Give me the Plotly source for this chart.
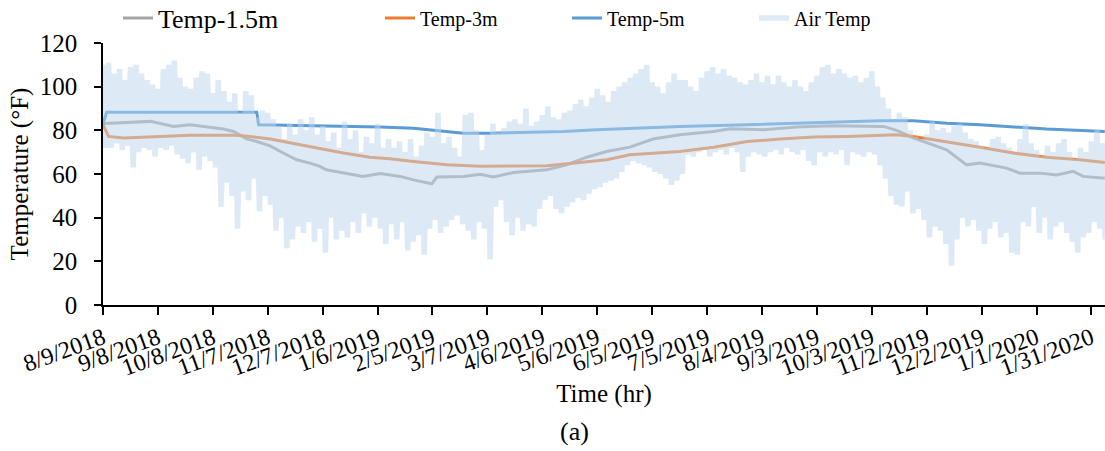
import pandas as pd
import plotly.graph_objects as go

START = pd.Timestamp("2018-08-09")

# x-axis tick labels (30-day spacing)
tick_labels = ["8/9/2018", "9/8/2018", "10/8/2018", "11/7/2018", "12/7/2018",
               "1/6/2019", "2/5/2019", "3/7/2019", "4/6/2019", "5/6/2019",
               "6/5/2019", "7/5/2019", "8/4/2019", "9/3/2019", "10/3/2019",
               "11/2/2019", "12/2/2019", "1/1/2020", "1/31/2020"]

# Soil temperature at 1.5 m (days since 8/9/2018, °F)
t15_day = [0, 4, 26, 38.5, 47.6, 56.7, 65.8, 71.3, 78.5, 84, 91.3, 98.5, 105.8, 113,
           118.5, 122, 131, 142, 151.5, 162.4, 169.6, 179.6, 182.4, 196.9, 206, 213.3,
           224.2, 242.4, 253.3, 264.2, 275.1, 287.8, 300.5, 315.1, 333.6, 342.7, 360.9,
           379, 397.3, 415.5, 426.4, 433.6, 442.7, 460.9, 471.8, 479.1, 493.6, 500.9,
           511.8, 520.9, 530, 535.5, 547.3]
t15_val = [83, 83.3, 84.1, 81.8, 82.6, 81.5, 80.6, 79.5, 76.1, 74.9, 72.9, 69.6, 66.5, 65,
           63.5, 61.9, 60.4, 58.9, 60.2, 58.9, 57.3, 55.5, 58.6, 58.9, 59.9, 58.6,
           60.7, 61.9, 64.2, 67.7, 70.3, 72.3, 76, 78, 79.5, 80.7, 80.3,
           81.5, 82.1, 82.1, 81.8, 80, 76.5, 71.1, 64.2, 65, 62.7, 60.4,
           60.4, 59.6, 61.2, 58.9, 58.1]

# Soil temperature at 3 m
t3_day = [0, 3, 11.3, 29.5, 47.6, 73, 80.4, 91.3, 102.2, 116.7, 131.3, 145.8, 156.7,
          169.6, 187.8, 206, 224.2, 242.4, 260.5, 275.1, 287.8, 306, 315.1, 333.6,
          351.8, 370, 388.2, 406.4, 424.5, 433.6, 442.7, 460.9, 479.1, 497.3, 515.5,
          533.6, 547.3]
t3_val = [82.6, 77.2, 76.5, 77.2, 77.7, 77.7, 77.2, 76, 74.2, 71.9, 69.6, 67.7, 67,
          65.7, 64.2, 63.5, 63.5, 63.8, 65.3, 66.5, 68.8, 69.6, 70.3, 72.3,
          74.9, 76, 76.9, 77.2, 77.7, 78, 77.2, 74.9, 72.3, 69.6, 67.7,
          66.5, 65.3]

# Soil temperature at 5 m
t5_day = [0, 2, 84, 85, 151.5, 169.6, 180.5, 196.9, 211.5, 233.3, 251.5, 269.6, 287.8,
          315.1, 351.8, 388.2, 424.5, 442.7, 460.9, 479.1, 497.3, 515.5, 547.3]
t5_val = [83, 88.3, 88.3, 82.6, 81.5, 81, 80, 78.7, 78.7, 79, 79.5, 80.3, 81,
          81.8, 82.6, 83.6, 84.4, 84.4, 83.3, 82.6, 81.5, 80.6, 79.5]

# Air temperature: highs and lows sampled every 3 days (lows half a step later)
air_step = 3
air_hi = [110, 111, 106, 108, 103, 109, 110, 106, 103, 101, 99, 108, 110, 112, 104, 100,
          99, 104, 107, 106, 97, 103, 98, 93, 97, 88, 98, 96, 86, 89, 88, 85, 82, 76,
          83, 78, 85, 80, 86, 78, 82, 75, 79, 72, 84, 76, 80, 70, 77, 74, 83, 72, 76,
          72, 75, 70, 76, 68, 73, 79, 77, 88, 74, 77, 72, 68, 87, 88, 80, 71, 78, 83,
          79, 81, 84, 85, 83, 90, 82, 84, 87, 91, 86, 85, 88, 89, 92, 94, 91, 95, 99,
          96, 93, 98, 100, 102, 104, 106, 108, 110, 102, 100, 97, 102, 106, 103,
          103, 100, 98, 104, 107, 109, 106, 108, 105, 104, 102, 101, 103, 106, 102,
          105, 101, 105, 102, 100, 103, 100, 98, 102, 105, 109, 110, 106, 108, 106,
          104, 105, 102, 104, 107, 100, 95, 90, 85, 88, 86, 80, 77, 76, 78, 84, 80,
          81, 79, 82, 83, 79, 76, 75, 73, 72, 76, 77, 74, 72, 70, 76, 83, 74, 71, 68,
          73, 70, 74, 76, 70, 67, 72, 70, 75, 80, 74]
air_lo = [72, 72, 74, 71, 73, 63, 70, 72, 71, 68, 72, 71, 73, 69, 67, 65, 70, 62, 68,
          66, 63, 45, 56, 50, 35, 52, 48, 58, 43, 50, 46, 34, 40, 26, 30, 36, 33, 38,
          29, 35, 24, 40, 30, 34, 31, 38, 33, 42, 36, 40, 35, 28, 37,
          30, 38, 25, 29, 32, 23, 35, 39, 33, 36, 39, 41, 37, 34, 30, 38, 35, 21, 45,
          48, 38, 32, 40, 34, 37, 36, 44, 48, 50, 44, 42, 45, 47, 49, 48, 51, 53, 54,
          56, 57, 58, 61, 64, 66, 65, 64, 63, 61, 60, 58, 55, 57, 60,
          69, 68, 70, 71, 68, 70, 71, 69, 72, 70, 61, 68, 70, 69, 68, 70, 71, 69, 72,
          70, 69, 71, 66, 64, 70, 68, 70, 69, 71, 64, 70, 69, 68, 70, 69, 64, 58, 50,
          46, 45, 52, 42, 44, 39, 31, 36, 34, 28, 18, 30, 40, 36, 39, 34, 28, 35, 38,
          31, 33, 24, 23, 38, 36, 45, 33, 40, 30, 36, 38, 33, 29, 24, 31, 33, 38, 35,
          30]


def to_dates(days):
    return START + pd.to_timedelta(days, unit="D")


# Interleave highs and lows into one hourly-like trace
air_x, air_y = [], []
for i, (hi, lo) in enumerate(zip(air_hi, air_lo)):
    air_x += [i * air_step, i * air_step + air_step / 2]
    air_y += [hi, lo]

FONT = "Liberation Serif"
GRAY, ORANGE, BLUE, AIR = "#A5A5A5", "#ED7D31", "#5B9BD5", "#BDD7EE"

fig = go.Figure()
fig.add_trace(go.Scatter(x=to_dates(t15_day), y=t15_val, mode="lines", name="Temp-1.5m",
                         line=dict(color=GRAY, width=3), legend="legend"))
fig.add_trace(go.Scatter(x=to_dates(t3_day), y=t3_val, mode="lines", name="Temp-3m",
                         line=dict(color=ORANGE, width=3), legend="legend2"))
fig.add_trace(go.Scatter(x=to_dates(t5_day), y=t5_val, mode="lines", name="Temp-5m",
                         line=dict(color=BLUE, width=3), legend="legend3"))
fig.add_trace(go.Scatter(x=to_dates(air_x), y=air_y, mode="lines", name="Air Temp",
                         line=dict(color=AIR, width=5.5), opacity=0.5, legend="legend4"))

L, T, B, W, H = 103, 43, 146, 1105, 451
pw, ph = W - L, H - T - B


def px_x(p):
    return (p - L) / pw


def px_y(p):
    return (H - B - p) / ph


def legend_at(x_px, size):
    return dict(orientation="h", x=px_x(x_px), y=px_y(18), xanchor="left",
                yanchor="middle", font=dict(family=FONT, size=size, color="black"),
                bgcolor="rgba(0,0,0,0)", borderwidth=0)


tick_dates = pd.to_datetime(tick_labels, format="%m/%d/%Y")

fig.update_layout(
    width=W, height=H,
    margin=dict(l=L, r=0, t=T, b=B, autoexpand=False),
    plot_bgcolor="white", paper_bgcolor="white",
    font=dict(family=FONT, size=25, color="black"),
    showlegend=True,
    legend=legend_at(118, 26),
    legend2=legend_at(380, 20),
    legend3=legend_at(567, 20),
    legend4=legend_at(754, 20),
    xaxis=dict(
        range=[START, START + pd.Timedelta(days=547.4)],
        tickmode="array", tickvals=tick_dates, ticktext=tick_labels,
        tickangle=-20, ticks="outside", ticklen=8, tickwidth=1.5, tickcolor="black",
        showline=True, linecolor="black", linewidth=1.5, showgrid=False, zeroline=False,
        tickfont=dict(family=FONT, size=24),
        title=dict(text="Time (hr)", font=dict(family=FONT, size=25), standoff=5),
    ),
    yaxis=dict(
        range=[0, 120], tickmode="linear", tick0=0, dtick=20,
        ticks="outside", ticklen=7, tickwidth=1.5, tickcolor="black",
        showline=True, linecolor="black", linewidth=1.5, showgrid=False, zeroline=False,
        ticklabelstandoff=12,
        tickfont=dict(family=FONT, size=25),
        title=dict(text="Temperature (°F)", font=dict(family=FONT, size=25), standoff=4),
    ),
)

fig.add_annotation(text="(a)", xref="paper", yref="paper", x=px_x(574), y=px_y(431),
                   xanchor="center", yanchor="middle", showarrow=False,
                   font=dict(family=FONT, size=26, color="black"))

fig.write_html("out.html")
